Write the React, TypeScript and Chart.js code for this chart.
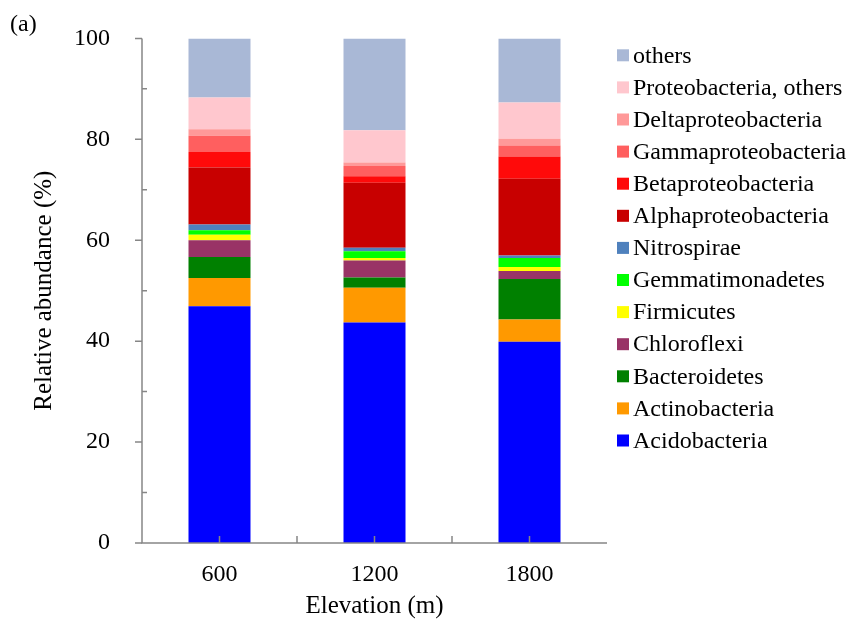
import React, { useEffect, useRef } from "react";
import { Chart, registerables } from "chart.js";

Chart.register(...registerables);

const categories = ["600", "1200", "1800"];
const acidobacteria = [46.9, 43.7, 39.9];
const actinobacteria = [5.6, 6.9, 4.4];
const bacteroidetes = [4.2, 2.0, 8.0];
const chloroflexi = [3.3, 3.4, 1.6];
const firmicutes = [1.1, 0.5, 0.8];
const gemmatimonadetes = [0.9, 1.3, 1.8];
const nitrospirae = [1.1, 0.7, 0.5];
const alphaproteobacteria = [11.3, 12.9, 15.2];
const betaproteobacteria = [3.1, 1.3, 4.4];
const gammaproteobacteria = [3.2, 2.0, 2.2];
const deltaproteobacteria = [1.3, 0.7, 1.3];
const proteobacteriaOthers = [6.3, 6.4, 7.2];
const others = [11.7, 18.2, 12.7];

const seriesLabels = [
  "Acidobacteria",
  "Actinobacteria",
  "Bacteroidetes",
  "Chloroflexi",
  "Firmicutes",
  "Gemmatimonadetes",
  "Nitrospirae",
  "Alphaproteobacteria",
  "Betaproteobacteria",
  "Gammaproteobacteria",
  "Deltaproteobacteria",
  "Proteobacteria, others",
  "others",
];
const seriesValues = [
  acidobacteria,
  actinobacteria,
  bacteroidetes,
  chloroflexi,
  firmicutes,
  gemmatimonadetes,
  nitrospirae,
  alphaproteobacteria,
  betaproteobacteria,
  gammaproteobacteria,
  deltaproteobacteria,
  proteobacteriaOthers,
  others,
];
const seriesColors = [
  "#0000FF",
  "#FF9900",
  "#008000",
  "#993366",
  "#FFFF00",
  "#00FF00",
  "#4F81BD",
  "#C80000",
  "#FF0A0A",
  "#FF5F5F",
  "#FF9999",
  "#FFC7CE",
  "#A9B8D6",
];
const yTicks = [0, 20, 40, 60, 80, 100];

const FONT = "'Liberation Serif', 'Times New Roman', serif";
const AXIS_COLOR = "#868686";

const customPlugin = {
  id: "customDecor",
  afterDatasetsDraw(chart: any) {
    const { ctx, chartArea, scales } = chart;
    const x = scales.x;
    const y = scales.y;
    ctx.save();
    ctx.strokeStyle = AXIS_COLOR;
    ctx.lineWidth = 1.5;
    ctx.beginPath();
    ctx.moveTo(chartArea.left, chartArea.top);
    ctx.lineTo(chartArea.left, chartArea.bottom);
    ctx.lineTo(chartArea.right, chartArea.bottom);
    ctx.stroke();
    ctx.beginPath();
    for (let v = 0; v <= 100; v += 10) {
      const py = y.getPixelForValue(v);
      if (v % 20 === 0) {
        ctx.moveTo(chartArea.left - 7, py);
        ctx.lineTo(chartArea.left, py);
      } else {
        ctx.moveTo(chartArea.left, py);
        ctx.lineTo(chartArea.left + 5, py);
      }
    }
    const n = categories.length;
    const w = (chartArea.right - chartArea.left) / n;
    for (let i = 0; i < n; i++) {
      const cx = x.getPixelForValue(i);
      ctx.moveTo(cx, chartArea.bottom);
      ctx.lineTo(cx, chartArea.bottom - 7);
      const bx = chartArea.left + w * (i + 1);
      if (i < n - 1) {
        ctx.moveTo(bx, chartArea.bottom);
        ctx.lineTo(bx, chartArea.bottom - 7);
      }
    }
    ctx.stroke();
    ctx.restore();
  },
  afterDraw(chart: any) {
    const { ctx } = chart;
    ctx.save();
    ctx.fillStyle = "#000";
    ctx.font = `24px ${FONT}`;
    ctx.textBaseline = "middle";
    ctx.textAlign = "left";
    ctx.fillText("(a)", 10, 25);
    const ds = chart.data.datasets;
    ctx.font = `24px ${FONT}`;
    for (let k = 0; k < ds.length; k++) {
      const d = ds[ds.length - 1 - k];
      const cy = 55.3 + 32.1 * k;
      ctx.fillStyle = d.backgroundColor;
      ctx.fillRect(617, cy - 6, 12, 12);
      ctx.fillStyle = "#000";
      ctx.fillText(d.label, 633, cy + 1);
    }
    ctx.restore();
  },
};

export default function App() {
  const canvasRef = useRef<HTMLCanvasElement | null>(null);

  useEffect(() => {
    if (!canvasRef.current) return;
    const chart = new Chart(canvasRef.current, {
      type: "bar",
      data: {
        labels: categories,
        datasets: seriesLabels.map((label, i) => ({
          label,
          data: seriesValues[i],
          backgroundColor: seriesColors[i],
          borderWidth: 0,
          barPercentage: 0.4,
          categoryPercentage: 1,
        })),
      },
      options: {
        animation: false,
        responsive: false,
        layout: { padding: { top: 38, right: 240, left: 0, bottom: 0 } },
        plugins: {
          legend: { display: false },
          tooltip: { enabled: false },
        },
        scales: {
          x: {
            stacked: true,
            grid: { display: false },
            border: { display: false },
            ticks: {
              color: "#000",
              font: { family: FONT, size: 24 },
              padding: 9,
              maxRotation: 0,
            },
            title: {
              display: true,
              text: "Elevation (m)",
              color: "#000",
              font: { family: FONT, size: 25 },
              padding: { top: 5, bottom: 0 },
            },
            afterFit: (scale: any) => {
              scale.height = 78;
            },
          },
          y: {
            stacked: true,
            min: 0,
            max: 100,
            grid: { display: false },
            border: { display: false },
            afterBuildTicks: (scale: any) => {
              scale.ticks = yTicks.map((v) => ({ value: v }));
            },
            ticks: {
              color: "#000",
              font: { family: FONT, size: 24 },
              padding: 24,
            },
            title: {
              display: true,
              text: "Relative abundance (%)",
              color: "#000",
              font: { family: FONT, size: 25 },
              padding: { top: 29, bottom: 0 },
            },
            afterFit: (scale: any) => {
              scale.width = 142;
            },
          },
        },
      },
      plugins: [customPlugin],
    });
    return () => chart.destroy();
  }, []);

  return (
    <div style={{ position: "absolute", left: 0, top: 0, width: 847, height: 621, background: "#fff" }}>
      <canvas ref={canvasRef} width={847} height={621} />
    </div>
  );
}
